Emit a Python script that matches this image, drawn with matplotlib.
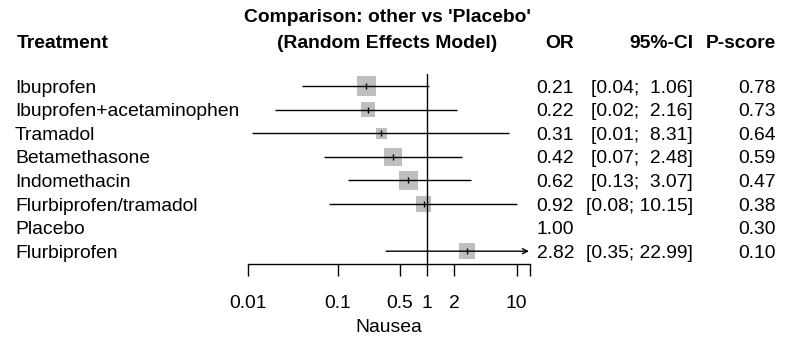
import numpy as np
import matplotlib
matplotlib.use("Agg")
import matplotlib.pyplot as plt
import matplotlib.transforms as mtransforms

plt.rcParams['font.family'] = ['Liberation Sans', 'DejaVu Sans']

# ---- data ----
treatments = ['Ibuprofen', 'Ibuprofen+acetaminophen', 'Tramadol', 'Betamethasone',
              'Indomethacin', 'Flurbiprofen/tramadol', 'Placebo', 'Flurbiprofen']
odds_ratio = [0.21, 0.22, 0.31, 0.42, 0.62, 0.92, 1.00, 2.82]
ci_lower = [0.04, 0.02, 0.011, 0.07, 0.13, 0.08, np.nan, 0.35]
ci_upper = [1.06, 2.16, 8.31, 2.48, 3.07, 10.15, np.nan, 22.99]
p_score = [0.78, 0.73, 0.64, 0.59, 0.47, 0.38, 0.30, 0.10]
weights = [19.9, 10.9, 6.1, 17.4, 19.9, 12.1, np.nan, 13.7]
tick_values = [0.01, 0.1, 0.5, 1, 2, 10, 14]
tick_labels = ['0.01', '0.1', '0.5', '1', '2', '10', '']
title_lines = ["Comparison: other vs 'Placebo'", "(Random Effects Model)"]
x_label = 'Nausea'

# ---- layout ----
W, H = 800, 355
fig = plt.figure(figsize=(W / 100, H / 100), dpi=100)
def fx(px): return px / W
def fy(py): return 1 - py / H

FS = 13.9
row0_px, row_step = 86.0, 23.6
ax_top, ax_bot = 74.0, 264.0
ax_left = 248.0
xmin, xmax = tick_values[0], tick_values[-1]
dec_px = 89.5
ax_w = dec_px * np.log10(xmax / xmin)
ax = fig.add_axes([fx(ax_left), fy(ax_bot), ax_w / W, (ax_bot - ax_top) / H])
ax.set_xscale('log')
ax.set_xlim(xmin, xmax)
n = len(treatments)
rows = np.arange(1, n + 1)
ax.set_ylim(1 + (ax_bot - row0_px) / row_step, 1 - (row0_px - ax_top) / row_step)

for s in ['top', 'left', 'right']:
    ax.spines[s].set_visible(False)
ax.spines['bottom'].set_linewidth(1.0)
ax.set_yticks([])
ax.set_xticks(tick_values)
ax.set_xticklabels(tick_labels)
ax.xaxis.set_minor_locator(matplotlib.ticker.NullLocator())
ax.tick_params(axis='x', direction='out', length=8.6, width=1.0, labelsize=FS, pad=13.5)
ax.set_xlabel(x_label, fontsize=FS, labelpad=5)
ax.patch.set_visible(False)

# reference line
ax.axvline(1, color='black', lw=1.0, zorder=3)

# squares
side_px = 19.3 * np.sqrt(np.array(weights) / 19.9)
sizes = (side_px * 0.72) ** 2
mask = ~np.isnan(side_px)
ax.scatter(np.array(odds_ratio)[mask], rows[mask], s=sizes[mask], marker='s',
           color='#BEBEBE', linewidths=0, zorder=1, clip_on=False)

# CIs
for i in range(n):
    lo, hi, est = ci_lower[i], ci_upper[i], odds_ratio[i]
    if np.isnan(lo):
        continue
    y = rows[i]
    if hi > xmax:
        ax.annotate('', xy=(xmax * 0.985, y), xytext=(lo, y),
                    arrowprops=dict(arrowstyle='->', lw=1.0, color='black',
                                    shrinkA=0, shrinkB=0, mutation_scale=9),
                    zorder=4)
    else:
        ax.plot([max(lo, xmin), hi], [y, y], color='black', lw=1.0, zorder=4,
                solid_capstyle='butt')
    ax.plot([est], [y], marker='|', color='black', ms=4.3, mew=1.0, zorder=5)

# row texts
trans = mtransforms.blended_transform_factory(fig.transFigure, ax.transData) + \
    mtransforms.ScaledTranslation(0, -6.5 / 100, fig.dpi_scale_trans)
for i in range(n):
    y = rows[i]
    ax.text(fx(15), y, treatments[i], transform=trans, ha='left', va='baseline', fontsize=FS)
    ax.text(fx(574), y, f"{odds_ratio[i]:.2f}", transform=trans, ha='right', va='baseline', fontsize=FS)
    if not np.isnan(ci_lower[i]):
        ci = f"[{ci_lower[i]:.2f}; {ci_upper[i]:5.2f}]"
        ax.text(fx(693), y, ci, transform=trans, ha='right', va='baseline', fontsize=FS)
    ax.text(fx(776), y, f"{p_score[i]:.2f}", transform=trans, ha='right', va='baseline', fontsize=FS)

# headers
hb = 47.5
fig.text(fx(17), fy(hb), 'Treatment', ha='left', va='baseline', fontsize=FS, fontweight='bold')
fig.text(fx(574), fy(hb), 'OR', ha='right', va='baseline', fontsize=FS, fontweight='bold')
fig.text(fx(693), fy(hb), '95%-CI', ha='right', va='baseline', fontsize=FS, fontweight='bold')
fig.text(fx(776), fy(hb), 'P-score', ha='right', va='baseline', fontsize=FS, fontweight='bold')
cx = ax_left + ax_w / 2 - 1.5
fig.text(fx(cx), fy(22), title_lines[0], ha='center', va='baseline', fontsize=FS, fontweight='bold')
fig.text(fx(cx), fy(hb), title_lines[1], ha='center', va='baseline', fontsize=FS, fontweight='bold')

fig.savefig('out.png', dpi=100, facecolor='white')
